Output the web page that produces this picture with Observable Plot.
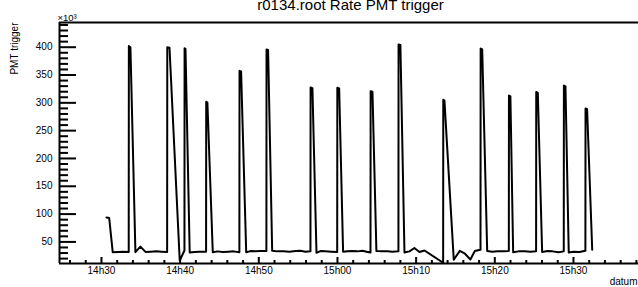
<!DOCTYPE html>
<html><head><meta charset="utf-8">
<script src="https://cdn.jsdelivr.net/npm/d3@7"></script>
<script src="https://cdn.jsdelivr.net/npm/@observablehq/plot@0.6"></script>
<style>html,body{margin:0;padding:0;background:#fff;}</style>
</head><body><div id="chart"></div>
<script>
const times = [
"14:30:38","14:30:59","14:31:26","14:32:10","14:32:48","14:33:28","14:33:29","14:33:41","14:34:19","14:34:57",
"14:35:36","14:36:14","14:36:59","14:37:38","14:38:21","14:38:22","14:38:39","14:39:57","14:40:33","14:40:34",
"14:40:41","14:41:13","14:41:49","14:42:27","14:43:18","14:43:19","14:43:28","14:44:09","14:44:45","14:45:23",
"14:46:09","14:46:47","14:47:32","14:47:33","14:47:45","14:48:24","14:48:56","14:49:35","14:50:13","14:50:58",
"14:50:59","14:51:11","14:51:42","14:52:22","14:53:08","14:53:54","14:54:40","14:55:18","14:55:56","14:56:34",
"14:56:35","14:56:49","14:57:20","14:57:50","14:58:28","14:59:14","14:59:58","14:59:59","15:00:13","15:00:43",
"15:01:16","15:01:54","15:02:33","15:03:11","15:03:41","15:04:12","15:04:13","15:04:27","15:04:57","15:05:43",
"15:06:21","15:06:59","15:07:45","15:07:46","15:08:00","15:08:31","15:09:09","15:09:47","15:10:25","15:11:04",
"15:13:26","15:13:27","15:13:36","15:14:47","15:15:33","15:16:09","15:16:54","15:17:27","15:18:11","15:18:12",
"15:18:24","15:19:02","15:19:42","15:20:20","15:21:06","15:21:47","15:21:48","15:21:59","15:22:20","15:23:01",
"15:23:46","15:24:32","15:25:15","15:25:16","15:25:28","15:26:01","15:26:42","15:27:20","15:28:06","15:28:46",
"15:28:47","15:28:59","15:29:24","15:30:00","15:30:46","15:31:31","15:31:32","15:31:44","15:32:23"
];
// PMT trigger rate, in units of 10^3
const rates = [
94,93,31.5,32,32.5,32,402,400,31.5,41.5,
32,32.5,33,32.5,32,400,399,16.5,34.5,398,
397,31,32,32.5,32.5,302,300.5,31.5,33,32,
32.5,33,31.5,357.5,356.5,31.5,33.5,33,33.5,33.5,
396,395,34,33,33,32.5,33.5,34,32.5,33,
327.5,326.5,30.5,33.5,33,32.5,32,327,326,32.5,
33,33.5,33,34,32.5,31,321,320,33.5,33,
33,32.5,33,405,404,31,33,39,32,34.5,
12.5,305.5,304,18,34,29.5,18.5,33.5,36,397.5,
396,33.5,32.5,33,33,33.5,313,311.5,31.5,33,
33,32.5,33,319.5,318,32,33.5,33,31.5,33,
331,329.5,31,32.5,32,34,290,288.5,36
];
const xTickTimes = ["14:30","14:40","14:50","15:00","15:10","15:20","15:30"];
const xTickLabels = ["14h30","14h40","14h50","15h00","15h10","15h20","15h30"];
const yTickValues = [50,100,150,200,250,300,350,400];
const titleText = "r0134.root Rate PMT trigger";
const yLabelText = "PMT trigger";
const xLabelText = "datum";
const yExponentText = "×10³";

const W = 638, H = 287, ML = 59, MR = 0, MT = 22, MB = 24;
const PW = W - ML - MR, PH = H - MT - MB;
const parse = s => new Date("2024-01-01T" + (s.length === 5 ? s + ":00" : s) + "Z");
const data = times.map((t, i) => ({t: parse(t), v: rates[i]}));
const xDomain = [parse("14:24:40"), parse("15:38:16")];
const yDomain = [11.2, 444.4];
const majorX = xTickTimes.map(parse);
const labelOf = new Map(majorX.map((d, i) => [+d, xTickLabels[i]]));
const minorX = d3.utcMinute.every(2).range(xDomain[0], xDomain[1]).filter(d => d.getUTCMinutes() % 10 !== 0);
const minorY = d3.range(20, 445, 10).filter(v => v % 50 !== 0);
const font = "'Liberation Sans', Arial, Helvetica, sans-serif";

const chart = Plot.plot({
  width: W, height: H,
  marginLeft: ML, marginRight: MR, marginTop: MT, marginBottom: MB,
  x: {type: "utc", domain: xDomain, label: null},
  y: {domain: yDomain, label: null},
  style: {fontFamily: font, fontSize: "10px", background: "#fff", color: "#000", overflow: "visible"},
  marks: [
    Plot.axisY(yTickValues, {tickSize: 0, tickPadding: 7, fontSize: 10, label: null}),
    Plot.axisX(majorX, {tickSize: 0, tickPadding: 3, tickFormat: d => labelOf.get(+d), fontSize: 10, label: null}),
    Plot.tickY(yTickValues, {y: d => d, insetRight: PW - 17, stroke: "#000", strokeWidth: 2}),
    Plot.tickY(minorY, {y: d => d, insetRight: PW - 9, stroke: "#000", strokeWidth: 2}),
    Plot.tickX(majorX, {x: d => d, insetTop: PH - 6, stroke: "#000", strokeWidth: 2}),
    Plot.tickX(minorX, {x: d => d, insetTop: PH - 3, stroke: "#000", strokeWidth: 2}),
    Plot.ruleY([yDomain[1]], {stroke: "#000", strokeWidth: 2}),
    Plot.ruleY([yDomain[0]], {stroke: "#000", strokeWidth: 2}),
    Plot.ruleX([xDomain[0]], {stroke: "#000", strokeWidth: 2}),
    Plot.line(data, {x: "t", y: "v", stroke: "#000", strokeWidth: 2}),
    Plot.text([titleText], {frameAnchor: "top", dx: 1.5, dy: -17.5, fontSize: 15, lineAnchor: "middle"}),
    Plot.text([yExponentText], {frameAnchor: "top-left", dx: -2, dy: -5, fontSize: 9.5, textAnchor: "start", lineAnchor: "middle"}),
    Plot.text([yLabelText], {frameAnchor: "top-left", dx: -45, dy: 0, rotate: -90, textAnchor: "end", lineAnchor: "middle", fontSize: 10}),
    Plot.text([xLabelText], {frameAnchor: "bottom-right", dx: -1, dy: 17.8, textAnchor: "end", lineAnchor: "middle", fontSize: 10})
  ]
});
document.getElementById("chart").appendChild(chart);
</script>
</body></html>
